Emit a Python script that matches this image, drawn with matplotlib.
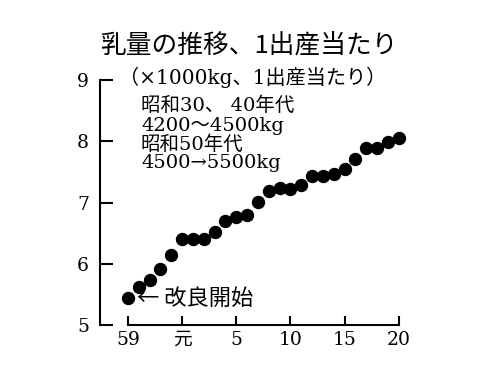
import matplotlib
matplotlib.use("Agg")
import matplotlib.pyplot as plt

# data
x_labels = ["59", "元", "5", "10", "15", "20"]
x_label_pos = [0, 5, 10, 15, 20, 25]
milk = [5.44, 5.62, 5.73, 5.92, 6.14, 6.41, 6.41, 6.41, 6.52, 6.69,
        6.77, 6.80, 7.01, 7.19, 7.23, 7.22, 7.28, 7.44, 7.44, 7.46,
        7.54, 7.71, 7.89, 7.89, 7.99, 8.06]
y_ticks = [5, 6, 7, 8, 9]
notes = ["昭和30、 40年代", "4200〜4500kg", "昭和50年代", "4500→5500kg"]

SERIF = ["DejaVu Serif", "Noto Sans CJK JP"]
plt.rcParams["font.family"] = SERIF

fig = plt.figure(figsize=(5, 3.75), dpi=100)
ax = fig.add_axes([0.2, 50 / 375, 301 / 500, 245 / 375])

xs = list(range(len(milk)))
ax.plot(xs, milk, "o", color="black", markersize=8.6, clip_on=False)

ax.set_xlim(-2.58, 25.2)
ax.set_ylim(5, 9)

for s in ["top", "right"]:
    ax.spines[s].set_visible(False)
ax.spines["left"].set_linewidth(1.5)
ax.spines["bottom"].set_linewidth(1.5)
ax.spines["bottom"].set_bounds(0, 25)

ax.set_yticks(y_ticks)
ax.set_yticklabels([str(v) for v in y_ticks])
ax.set_xticks(x_label_pos)
ax.set_xticklabels(x_labels)
ax.tick_params(axis="y", direction="in", length=9.5, width=1.5, pad=8, labelsize=13.5)
ax.tick_params(axis="x", direction="in", length=6.5, width=1.5, pad=4, labelsize=13.5)

fig.text(249 / 500, 1 - 45 / 375, "乳量の推移、1出産当たり", ha="center", va="center",
         fontsize=18.5, family=["Noto Sans CJK JP"])
fig.text(119 / 500, 1 - 77 / 375, "（×1000kg、1出産当たり）", ha="left", va="center",
         fontsize=14.5)

line_y = [105.7, 125.7, 145, 163.3]
for t, yy in zip(notes, line_y):
    fig.text(141 / 500, 1 - yy / 375, t, ha="left", va="center", fontsize=14)

ax.annotate("← 改良開始", xy=(0.85, milk[0]), ha="left", va="center", fontsize=16,
            family=["Noto Sans CJK JP"])

fig.savefig("out.png", dpi=100)
